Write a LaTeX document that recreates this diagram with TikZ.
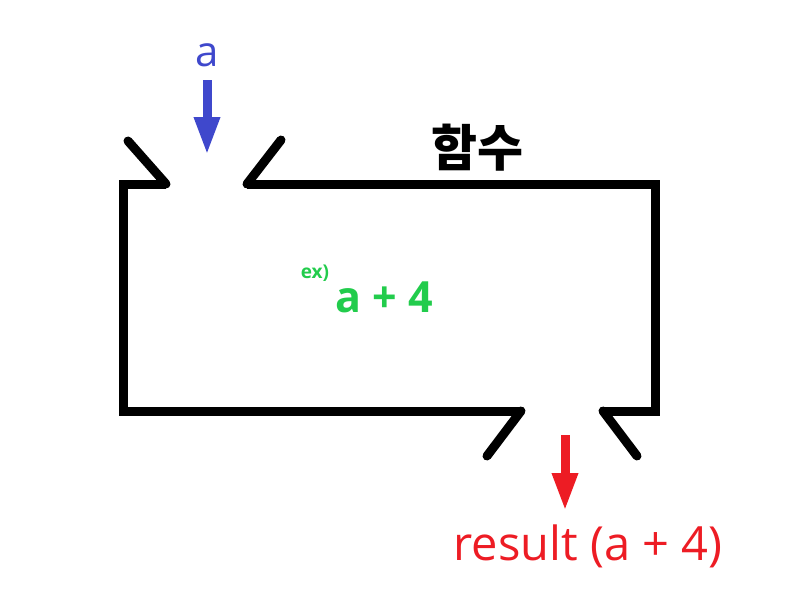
\documentclass[tikz,border=0pt]{standalone}
\usepackage{fontspec}
\setmainfont{Open Sans}
\newfontfamily\krfont{Noto Sans CJK KR}
\usetikzlibrary{arrows.meta}
\definecolor{paintblue}{HTML}{3F48CC}
\definecolor{paintred}{HTML}{ED1C24}
\definecolor{paintgreen}{HTML}{22CC4C}
\tikzset{
  wall/.style={line width=9pt, line join=miter, line cap=butt},
  lip/.style={line width=9pt, line cap=round, line join=round},
  flow/.style={line width=9pt, -{Triangle[width=24pt,length=38pt]}},
  lbl/.style={inner sep=0pt, anchor=base},
}
\begin{document}
\begin{tikzpicture}[x=1pt,y=-1pt]
\useasboundingbox (0,0) rectangle (796,597);
% box
\coordinate (tl) at (123,184);
\coordinate (tr) at (655,184);
\coordinate (br) at (655,411);
\coordinate (bl) at (123,411);
\coordinate (inL) at (166,184);
\coordinate (inR) at (247,184);
\coordinate (outL) at (521,411);
\coordinate (outR) at (603,411);
\draw[wall] (inL) -- (tl) -- (bl) -- (outL);
\draw[wall] (inR) -- (tr) -- (br) -- (outR);
\draw[lip] (128,141) -- (inL);
\draw[lip] (281,140) -- (inR);
\draw[lip] (487,456) -- (outL);
\draw[lip] (637,456) -- (outR);
% labels
\node[lbl, text=paintblue, font=\fontsize{42}{42}\selectfont] (a) at (207,66) {a};
\coordinate (ain1) at (207,80);
\coordinate (ain2) at (207,155);
\draw[flow, draw=paintblue, fill=paintblue] (ain1) -- (ain2);
\node[lbl, font=\krfont\bfseries\fontsize{50}{50}\selectfont] (fn) at (477,166) {함수};
\node[lbl, text=paintgreen, font=\bfseries\fontsize{19}{19}\selectfont] (ex) at (315,278) {ex)};
\node[lbl, text=paintgreen, font=\bfseries\fontsize{43}{43}\selectfont] (expr) at (384,312) {a + 4};
\coordinate (rout1) at (565,435);
\coordinate (rout2) at (565,511);
\draw[flow, draw=paintred, fill=paintred] (rout1) -- (rout2);
\node[lbl, text=paintred, font=\fontsize{47}{47}\selectfont] (res) at (588,560) {result (a + 4)};
\end{tikzpicture}
\end{document}
